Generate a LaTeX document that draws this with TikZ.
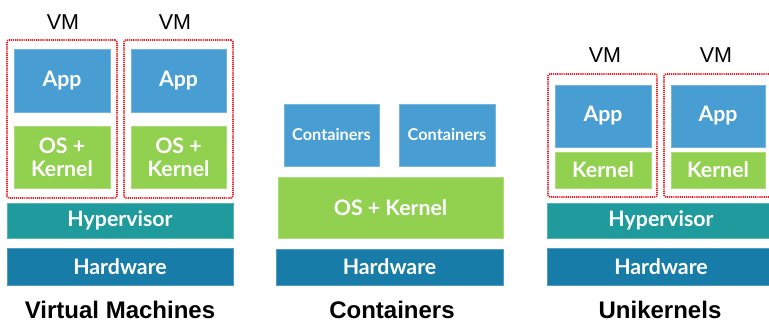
\documentclass[tikz,border=0pt]{standalone}
\usepackage{fontspec}
\setmainfont{Liberation Sans}
\newfontfamily\boxfont{Lato}
\definecolor{appblue}{RGB}{72,158,210}
\definecolor{osgreen}{RGB}{146,208,80}
\definecolor{hypteal}{RGB}{32,155,157}
\definecolor{hwblue}{RGB}{24,124,168}
\definecolor{vmred}{RGB}{238,30,35}
\tikzset{
  blk/.style={draw=#1!75!white, line width=0.8pt, fill=#1, text=white,
    inner sep=0pt, align=center, font=\boxfont\bfseries\fontsize{21.3}{21.3}\selectfont},
  appbox/.style={blk=appblue},
  osbox/.style={blk=osgreen, font=\boxfont\bfseries\fontsize{21.3}{23}\selectfont},
  hypbox/.style={blk=hypteal},
  hwbox/.style={blk=hwblue},
  ctbox/.style={blk=appblue, font=\boxfont\bfseries\fontsize{16.3}{16.3}\selectfont},
  vmframe/.style={draw=vmred, line width=1.6pt, dash pattern=on 1.2pt off 0.9pt,
    rounded corners=2pt, inner sep=0pt},
  vmlabel/.style={font=\fontsize{21.5}{21.5}\selectfont, text=black, inner sep=0pt},
  title/.style={font=\bfseries\fontsize{24}{24}\selectfont, text=black, inner sep=0pt,
    anchor=base}
}
\begin{document}
\begin{tikzpicture}[x=1pt, y=-1pt]
\useasboundingbox (0,0) rectangle (769,324);
\clip (0,0) rectangle (769,324);
\fill[white] (0,0) rectangle (769,324);

% ---- Virtual machines ----
\node[vmframe, minimum width=110pt, minimum height=158pt] (vmA) at (62,119) {};
\node[vmframe, minimum width=109pt, minimum height=158pt] (vmB) at (178.5,119) {};
\node[vmlabel] (vmAl) at (63,22) {VM};
\node[vmlabel] (vmBl) at (175,22) {VM};
\node[appbox, minimum width=96pt, minimum height=63pt] (appA) at (62,80.5) {App};
\node[appbox, minimum width=95pt, minimum height=63pt] (appB) at (178.5,80.5) {App};
\node[osbox, minimum width=96pt, minimum height=62pt] (osA) at (62,157) {OS +\\Kernel};
\node[osbox, minimum width=95pt, minimum height=62pt] (osB) at (178.5,157) {OS +\\Kernel};
\node[hypbox, minimum width=226pt, minimum height=35pt] (hypA) at (120,220.5) {Hypervisor};
\node[hwbox, minimum width=226pt, minimum height=37pt] (hwA) at (120,266.5) {Hardware};
\node[title] (tA) at (120,318.5) {Virtual Machines};

% ---- Containers ----
\node[ctbox, minimum width=95pt, minimum height=62pt] (ctA) at (331.5,135) {Containers};
\node[ctbox, minimum width=96pt, minimum height=62pt] (ctB) at (447,135) {Containers};
\node[osbox, minimum width=225pt, minimum height=61pt] (osC) at (390.5,207.5) {OS + Kernel};
\node[hwbox, minimum width=227pt, minimum height=36pt] (hwC) at (389.5,267) {Hardware};
\node[title] (tC) at (392,318.5) {Containers};

% ---- Unikernels ----
\node[vmframe, minimum width=109pt, minimum height=123pt] (ukA) at (602.5,135.5) {};
\node[vmframe, minimum width=111pt, minimum height=123pt] (ukB) at (719.5,135.5) {};
\node[vmlabel] (ukAl) at (605,55) {VM};
\node[vmlabel] (ukBl) at (716,55) {VM};
\node[appbox, minimum width=96pt, minimum height=62pt] (appU) at (603,116) {App};
\node[appbox, minimum width=94pt, minimum height=62pt] (appV) at (718,116) {App};
\node[blk=osgreen, minimum width=96pt, minimum height=36pt] (kU) at (603,170) {Kernel};
\node[blk=osgreen, minimum width=94pt, minimum height=36pt] (kV) at (718,170) {Kernel};
\node[hypbox, minimum width=228pt, minimum height=35pt] (hypU) at (661,220.5) {Hypervisor};
\node[hwbox, minimum width=228pt, minimum height=37pt] (hwU) at (661,266.5) {Hardware};
\node[title] (tU) at (660,318.5) {Unikernels};
\end{tikzpicture}
\end{document}
